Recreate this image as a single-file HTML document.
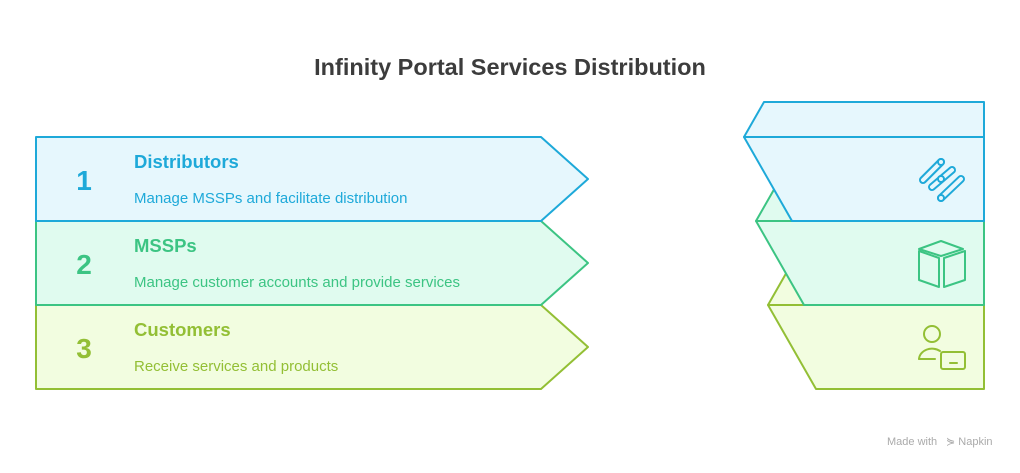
<!DOCTYPE html>
<html><head><style>
body{margin:0;width:1020px;height:468px;background:#fff;overflow:hidden;font-family:"Liberation Sans",sans-serif}
</style></head><body>
<svg width="1020" height="468" xmlns="http://www.w3.org/2000/svg" font-family="Liberation Sans, sans-serif">
<text x="510" y="75" text-anchor="middle" font-size="23.5" font-weight="bold" fill="#3c3c3c">Infinity Portal Services Distribution</text>
<g stroke-width="2" stroke-linejoin="round">
<polygon points="36,305 541,305 588,347 541,389 36,389" fill="#f2fde0" stroke="#93bf35"/>
<polygon points="36,221 541,221 588,263 541,305 36,305" fill="#e0fbef" stroke="#3cc483"/>
<polygon points="36,137 541,137 588,179 541,221 36,221" fill="#e6f7fd" stroke="#1ea9d9"/>
<polygon points="768,305 788,270 984,270 984,305" fill="#f2fde0" stroke="#93bf35"/>
<polygon points="768,305 984,305 984,389 816,389" fill="#f2fde0" stroke="#93bf35"/>
<polygon points="756,221 776,186 984,186 984,221" fill="#e0fbef" stroke="#3cc483"/>
<polygon points="756,221 984,221 984,305 804,305" fill="#e0fbef" stroke="#3cc483"/>
<polygon points="744,137 764,102 984,102 984,137" fill="#e6f7fd" stroke="#1ea9d9"/>
<polygon points="744,137 984,137 984,221 792,221" fill="#e6f7fd" stroke="#1ea9d9"/>
</g>
<g font-weight="bold" font-size="28">
<text x="84" y="190" text-anchor="middle" fill="#1ea9d9">1</text>
<text x="84" y="274" text-anchor="middle" fill="#3cc483">2</text>
<text x="84" y="358" text-anchor="middle" fill="#93bf35">3</text>
</g>
<g font-size="18.5" font-weight="bold">
<text x="134" y="168" fill="#1ea9d9">Distributors</text>
<text x="134" y="252" fill="#3cc483">MSSPs</text>
<text x="134" y="336" fill="#93bf35">Customers</text>
</g>
<g font-size="15">
<text x="134" y="203" fill="#1ea9d9">Manage MSSPs and facilitate distribution</text>
<text x="134" y="287" fill="#3cc483">Manage customer accounts and provide services</text>
<text x="134" y="371" fill="#93bf35">Receive services and products</text>
</g>
<g fill="none" stroke-linecap="round">
<g stroke="#1ea9d9" stroke-width="8">
<line x1="923" y1="180" x2="941" y2="162"/><line x1="932" y1="187" x2="952" y2="170"/><line x1="941" y1="198" x2="961" y2="179"/>
</g>
<g stroke="#e6f7fd" stroke-width="4">
<line x1="923" y1="180" x2="941" y2="162"/><line x1="932" y1="187" x2="952" y2="170"/><line x1="941" y1="198" x2="961" y2="179"/>
</g>
<g stroke="#1ea9d9" stroke-width="2" fill="#e6f7fd">
<circle cx="941" cy="162" r="3"/><circle cx="941" cy="179" r="3"/><circle cx="941" cy="198" r="3"/>
</g>
</g>
<g fill="none" stroke="#3cc483" stroke-width="2" stroke-linejoin="round">
<polygon points="919,249 941,241 963,249 941,256"/>
<polygon points="919,251 939,258 939,287 919,280"/>
<polygon points="944,258 965,251 965,280 944,287"/>
</g>
<g fill="none" stroke="#93bf35" stroke-width="2" stroke-linecap="round">
<circle cx="932" cy="334" r="8"/>
<path d="M919,359 a13,11 0 0 1 21,-8"/><line x1="919" y1="359" x2="935" y2="359"/>
<rect x="941" y="352" width="24" height="17" rx="2"/><line x1="950" y1="363" x2="957" y2="363"/>
</g>
<text x="887" y="445" font-size="11" fill="#aaa">Made with</text>
<text x="946" y="445" font-size="11" fill="#aaa">⋟ Napkin</text>
</svg>
</body></html>
